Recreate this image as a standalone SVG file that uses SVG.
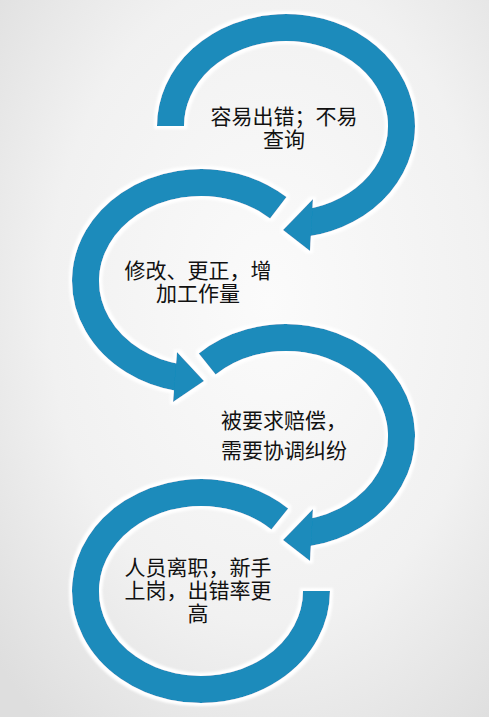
<svg xmlns="http://www.w3.org/2000/svg" width="489" height="717" viewBox="0 0 489 717">
<defs>
<radialGradient id="bg" cx="55%" cy="42%" r="75%">
<stop offset="0" stop-color="#fbfbfb"/>
<stop offset="0.6" stop-color="#f1f1f1"/>
<stop offset="1" stop-color="#dedede"/>
</radialGradient>
<filter id="halo" x="-10%" y="-10%" width="120%" height="120%">
<feMorphology in="SourceAlpha" operator="dilate" radius="2.5" result="d"/>
<feGaussianBlur in="d" stdDeviation="0.8" result="b"/>
<feFlood flood-color="#ffffff"/>
<feComposite in2="b" operator="in" result="w"/>
<feMerge><feMergeNode in="w"/><feMergeNode in="SourceGraphic"/></feMerge>
</filter>
</defs>
<style>
.band{fill:none;stroke:#1a8bbb;stroke-width:27;stroke-linecap:butt}
.head{fill:#1a8bbb}
.lbl{font-family:"Noto Sans CJK SC","Noto Sans",sans-serif;font-size:21px;fill:#111;text-anchor:middle}
</style>
<rect width="489" height="717" fill="url(#bg)"/>
<g id="connectors">
<g id="arc1" filter="url(#halo)">
<path class="band" d="M170.5 126 A115.5 98.5 0 1 1 308 222.7"/>
<polygon class="head" points="313,199 283,230 310,251"/>
</g>
<g id="arc2" filter="url(#halo)">
<path class="band" d="M278.3 207.8 A115.5 98.5 0 1 0 179 377.7"/>
<polygon class="head" points="177,352 204,381 173,402"/>
</g>
<g id="arc3" filter="url(#halo)">
<path class="band" d="M207.2 364 A115.5 98.5 0 1 1 308 532.7"/>
<polygon class="head" points="313,509 283,540 310,561"/>
</g>
<g id="arc4" filter="url(#halo)">
<path class="band" d="M279.8 519 A115.5 98.5 0 1 0 316.5 591"/>
</g>
</g>
<g id="node1">
<text class="lbl" x="284" y="124">容易出错；不易<tspan x="284" dy="23">查询</tspan></text>
</g>
<g id="node2">
<text class="lbl" x="198" y="278">修改、更正，增<tspan x="198" dy="23">加工作量</tspan></text>
</g>
<g id="node3">
<text class="lbl" x="284" y="428">被要求赔偿，<tspan x="284" dy="30">需要协调纠纷</tspan></text>
</g>
<g id="node4">
<text class="lbl" x="198" y="575">人员离职，新手<tspan x="198" dy="23">上岗，出错率更</tspan><tspan x="198" dy="23">高</tspan></text>
</g>
</svg>
